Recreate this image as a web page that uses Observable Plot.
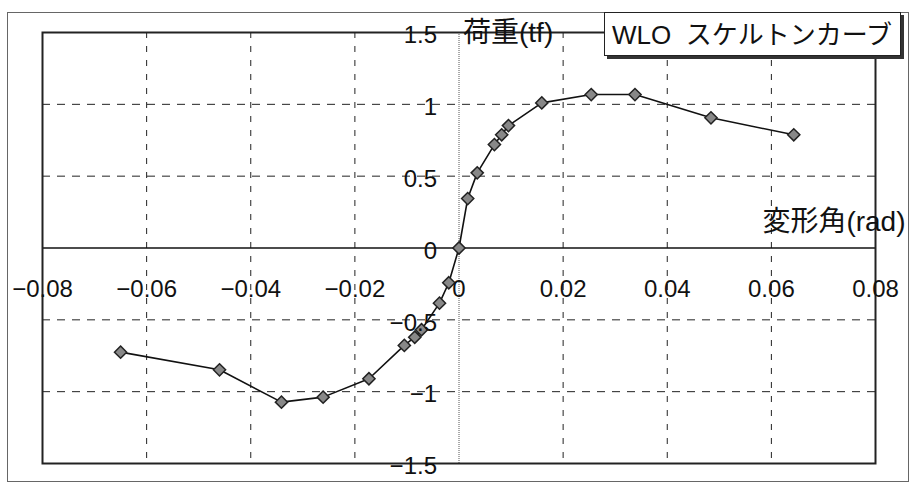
<!DOCTYPE html>
<html>
<head>
<meta charset="utf-8">
<script src="https://cdn.jsdelivr.net/npm/d3@7"></script>
<script src="https://cdn.jsdelivr.net/npm/@observablehq/plot@0.6"></script>
<style>
  html, body { margin: 0; padding: 0; background: #fff; }
  #wrap { position: relative; width: 911px; height: 482px; overflow: hidden; }
  #legend {
    position: absolute; left: 604px; top: 12px; width: 297px; height: 44px;
    border: 1px solid #222; background: #fff; box-shadow: 3px 3px 0 #333;
    font-family: "Liberation Sans", "Noto Sans CJK JP", sans-serif; font-size: 26px;
    line-height: 44px; white-space: pre; padding-left: 7px; box-sizing: border-box; color: #111;
  }
</style>
</head>
<body>
<div id="wrap"><div id="chart"></div><div id="legend"></div></div>
<script>
// Data
const seriesName = "WLO  スケルトンカーブ";
const xLabel = "変形角(rad)";
const yLabel = "荷重(tf)";
const angle = [-0.065, -0.046, -0.0341, -0.0261, -0.0173, -0.0105, -0.0085, -0.0072, -0.00375, -0.00196, 0,
               0.00167, 0.0035, 0.0068, 0.0082, 0.0095, 0.0159, 0.0254, 0.0338, 0.0484, 0.0643];
const load  = [-0.725, -0.848, -1.073, -1.038, -0.910, -0.678, -0.621, -0.569, -0.384, -0.242, 0,
               0.344, 0.523, 0.720, 0.788, 0.852, 1.010, 1.068, 1.068, 0.906, 0.788];
const xTicks = [-0.08, -0.06, -0.04, -0.02, 0, 0.02, 0.04, 0.06, 0.08];
const xTickLabels = ["−0.08", "−0.06", "−0.04", "−0.02", "0", "0.02", "0.04", "0.06", "0.08"];
const yTicks = [-1.5, -1, -0.5, 0, 0.5, 1, 1.5];
const yTickLabels = ["−1.5", "−1", "−0.5", "0", "0.5", "1", "1.5"];

const pts = angle.map((a, i) => ({x: a, y: load[i]}));
const xT = xTicks.map((v, i) => ({v, label: xTickLabels[i]}));
const yT = yTicks.map((v, i) => ({v, label: yTickLabels[i]}));
const font = "'Liberation Sans', 'Noto Sans CJK JP', sans-serif";

const chart = Plot.plot({
  width: 911, height: 482,
  marginLeft: 42, marginRight: 36, marginTop: 32, marginBottom: 19,
  x: {domain: [-0.08, 0.08], axis: null},
  y: {domain: [-1.5, 1.5], axis: null},
  style: {fontFamily: font, background: "#fff"},
  marks: [
    Plot.frame({stroke: "#666", strokeWidth: 1, insetLeft: -35, insetTop: -20, insetRight: -33, insetBottom: -18}),
    Plot.ruleX(xTicks.filter(v => v !== 0 && Math.abs(v) < 0.08), {stroke: "#222", strokeWidth: 1, strokeDasharray: "6,8"}),
    Plot.ruleY(yTicks.filter(v => v !== 0 && Math.abs(v) < 1.5), {stroke: "#222", strokeWidth: 1, strokeDasharray: "8,7"}),
    Plot.ruleX([0], {stroke: "#555", strokeWidth: 1, strokeDasharray: "1,1"}),
    Plot.ruleY([0], {stroke: "#111", strokeWidth: 1.5}),
    Plot.frame({stroke: "#222", strokeWidth: 2}),
    Plot.line(pts, {x: "x", y: "y", stroke: "#111", strokeWidth: 1.6}),
    Plot.dot(pts, {x: "x", y: "y", symbol: "diamond2", r: 5.5, fill: "#888", stroke: "#222", strokeWidth: 1.5}),
    Plot.text(yT, {x: 0, y: "v", text: "label", textAnchor: "end", dx: -22, dy: 3, fontSize: 24, fill: "#111"}),
    Plot.text(xT, {x: "v", y: 0, text: "label", textAnchor: "middle", dy: 41, fontSize: 24, fill: "#111"}),
    Plot.text([xLabel], {x: 0.08, y: 0, text: d => d, textAnchor: "end", dx: 30, dy: -26, fontSize: 28, fill: "#111"}),
    Plot.text([yLabel], {x: 0, y: 1.5, text: d => d, textAnchor: "start", dx: 4, dy: 1, fontSize: 28, fill: "#111"})
  ]
});
document.getElementById("chart").appendChild(chart);
document.getElementById("legend").textContent = seriesName;
</script>
</body>
</html>
